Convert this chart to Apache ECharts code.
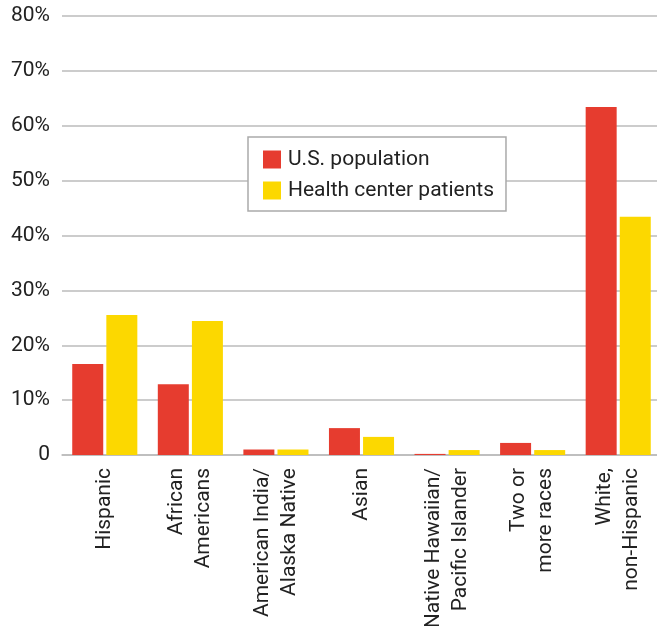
<!DOCTYPE html>
<html>
<head>
<meta charset="utf-8">
<script src="https://cdn.jsdelivr.net/npm/echarts@6/dist/echarts.min.js"></script>
<style>
html,body{margin:0;padding:0;background:#fff}
#chart{width:657px;height:626px}
</style>
</head>
<body>
<div id="chart"></div>
<script>
// categories and values (percent)
var categories = ['Hispanic', 'African\nAmericans', 'American India/\nAlaska Native', 'Asian',
    'Native Hawaiian/\nPacific Islander', 'Two or\nmore races', 'White,\nnon-Hispanic']
var usPopulation = [16.6, 12.9, 1.0, 4.9, 0.2, 2.2, 63.4]
var healthCenter = [25.5, 24.4, 1.0, 3.3, 0.9, 0.9, 43.4]
var seriesName = ['U.S. population', 'Health center patients']
var echartsColor = ['#e63c2f', '#fcd800']
var fontFam = 'Roboto, "Open Sans", sans-serif'

var myChart = echarts.init(document.getElementById('chart'))
var option = {
    color: echartsColor,
    animation: false,
    grid: {
        left: 62,
        right: -4,
        top: 16,
        bottom: 171,
        containLabel: false,
        outerBoundsMode: 'none'
    },
    legend: {
        orient: 'vertical',
        left: 248,
        top: 137,
        itemWidth: 18,
        itemHeight: 18,
        itemGap: 10,
        padding: [12, 12, 10, 15],
        borderColor: '#aaa',
        borderWidth: 1.5,
        borderRadius: 0,
        backgroundColor: '#fff',
        icon: 'rect',
        textStyle: {
            fontFamily: fontFam,
            fontSize: 21,
            color: '#222',
            padding: [0, 0, 0, 2]
        },
        data: seriesName
    },
    xAxis: {
        type: 'category',
        data: categories,
        axisTick: { show: false },
        axisLine: { show: true, lineStyle: { color: '#bbb', width: 1.5 } },
        axisLabel: {
            rotate: 90,
            margin: 13,
            interval: 0,
            fontFamily: fontFam,
            fontSize: 21,
            lineHeight: 27,
            color: '#222'
        }
    },
    yAxis: {
        type: 'value',
        min: 0,
        max: 80,
        interval: 10,
        axisLine: { show: false },
        axisTick: { show: false },
        splitLine: { lineStyle: { color: '#bbb', width: 1.5 } },
        axisLabel: {
            margin: 12,
            fontFamily: fontFam,
            fontSize: 21,
            color: '#222',
            formatter: function (v) { return v === 0 ? '0' : v + '%' }
        }
    },
    series: [
        {
            name: seriesName[0],
            type: 'bar',
            data: usPopulation,
            barWidth: 31,
            barGap: '10%'
        },
        {
            name: seriesName[1],
            type: 'bar',
            data: healthCenter,
            barWidth: 31,
            barGap: '10%'
        }
    ]
}
myChart.setOption(option)
</script>
</body>
</html>
